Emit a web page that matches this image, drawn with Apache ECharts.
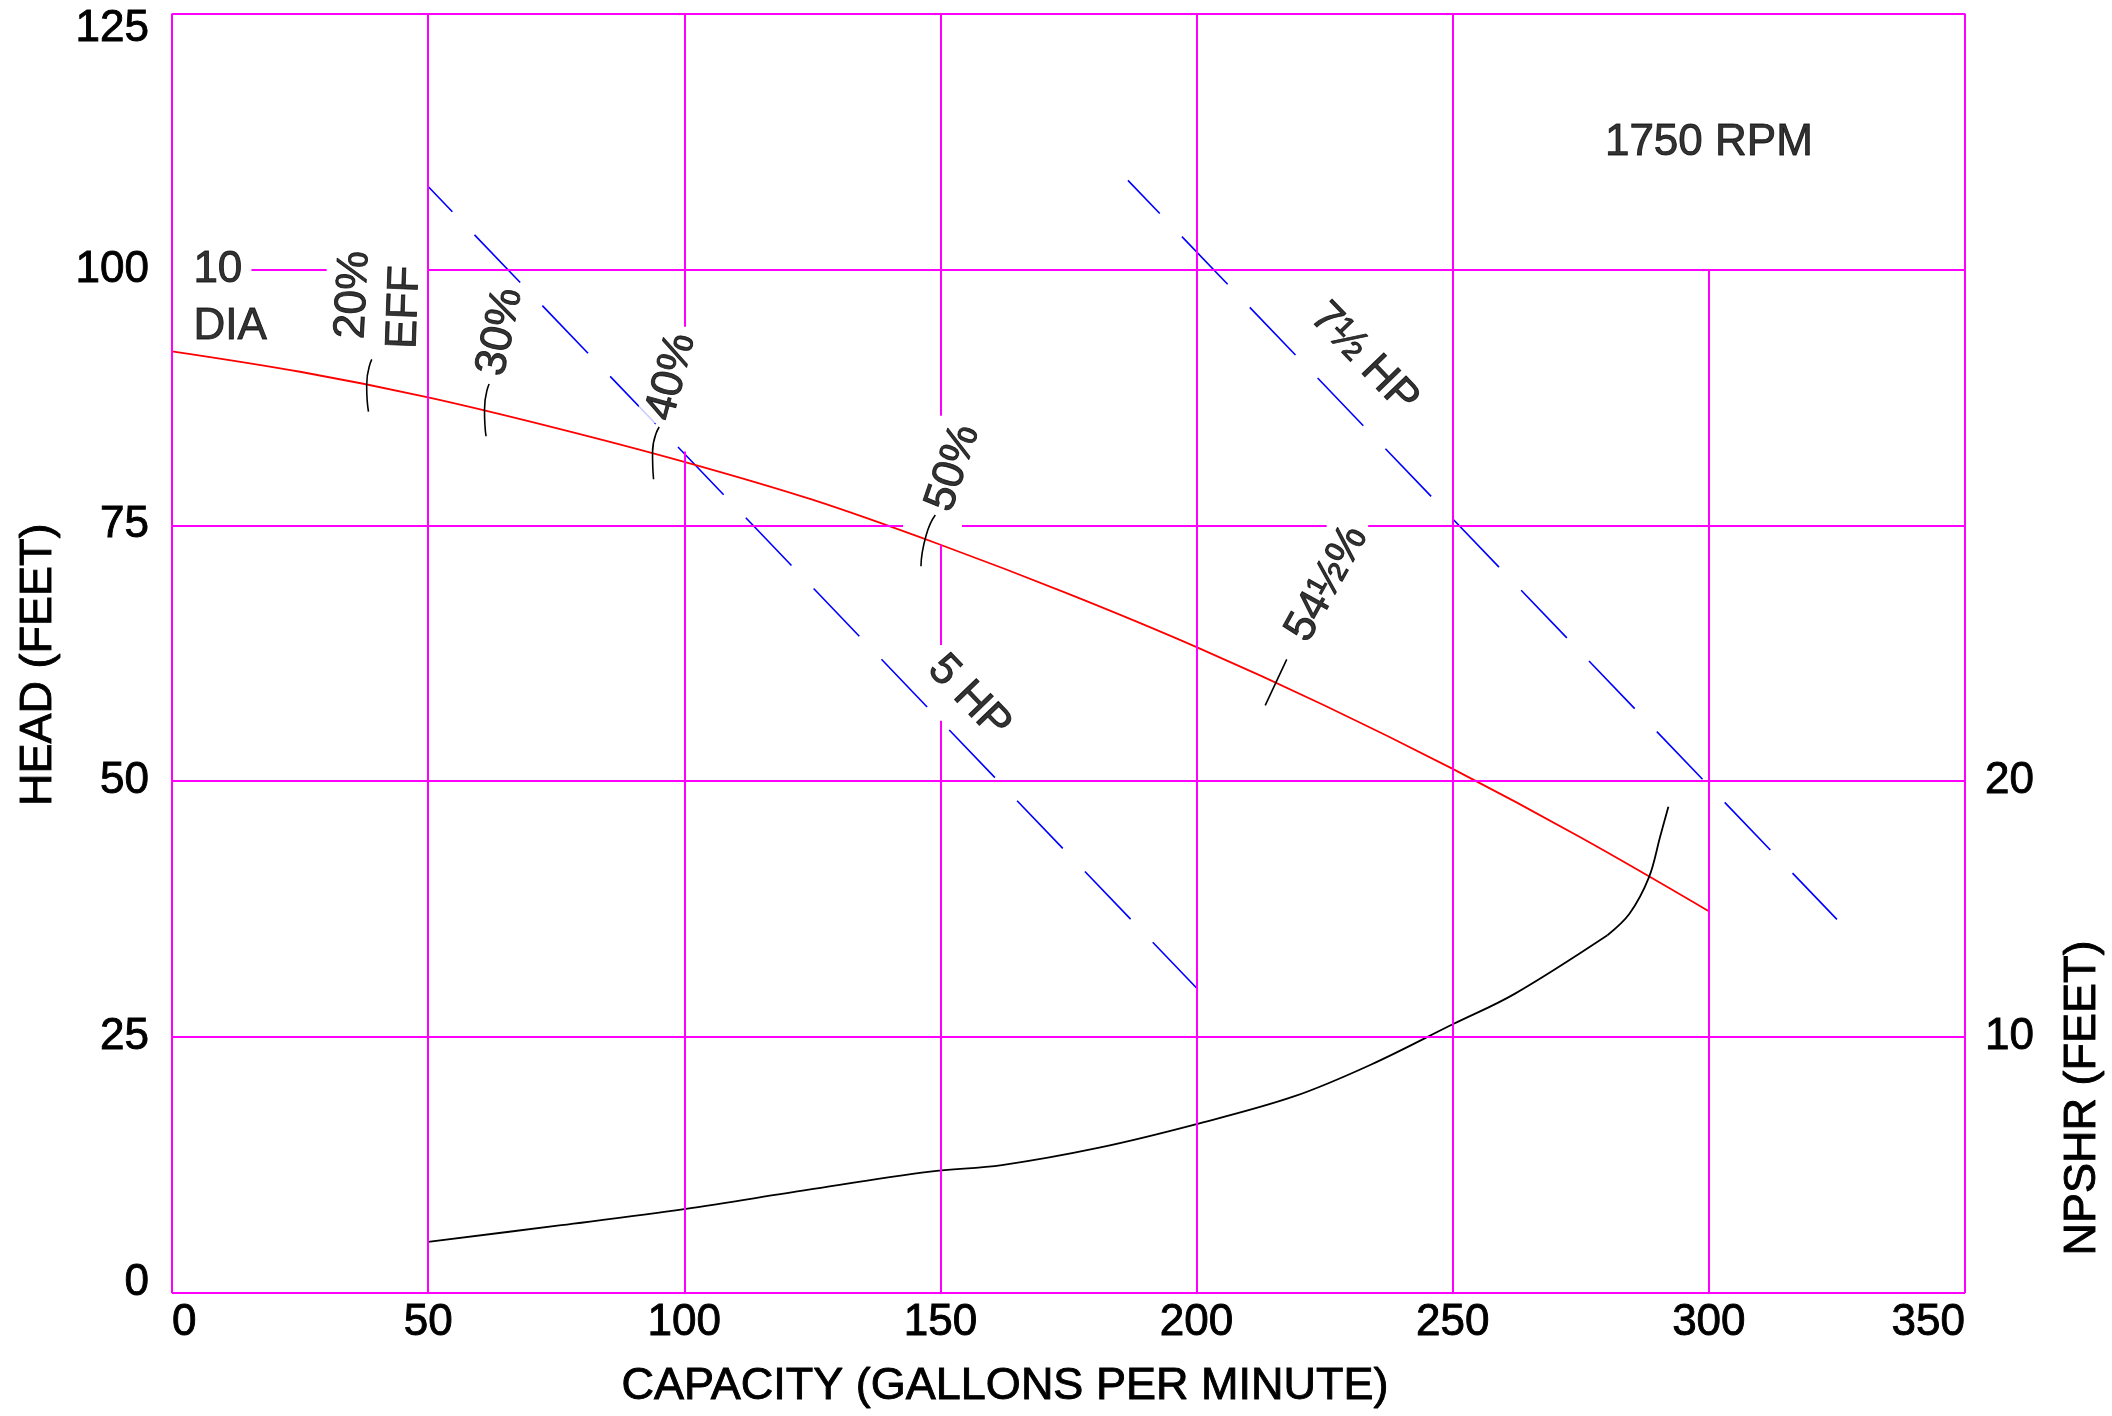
<!DOCTYPE html>
<html><head><meta charset="utf-8">
<script src="https://cdn.jsdelivr.net/npm/echarts@6/dist/echarts.min.js"></script>
<style>html,body{margin:0;padding:0;background:#fff}#c{width:2112px;height:1416px}</style>
</head><body><div id="c"></div>
<script>
// ---- axes / ticks ----
const capacityTicks = [0, 50, 100, 150, 200, 250, 300, 350];
const headTicks = [0, 25, 50, 75, 100, 125];
const npshrTicks = [10, 20];

// ---- head-capacity curve (10" dia, 1750 RPM) ----
const headQ  = [0, 25, 50, 75, 100, 125, 150, 175, 200, 225, 250, 275, 300];
const headFt = [92, 90.0, 87.5, 84.5, 81.2, 77.5, 73.1, 68.3, 63.1, 57.4, 51.2, 44.5, 37.3];

// ---- NPSHR curve (right axis, feet) ----
const npshrQ  = [50, 76, 100, 124, 148, 162, 181, 200, 219, 234, 250, 262, 280.2, 284.5, 288.3, 290.5, 292.1];
const npshrFt = [2.0, 2.65, 3.28, 4.03, 4.74, 5.0, 5.68, 6.6, 7.68, 8.92, 10.5, 11.68, 13.98, 14.82, 16.24, 17.84, 19.0];
const npshrKinkIndex = 12;

// ---- horsepower lines ----
const hp5Q = [50, 200];
const hp5Ft = [108.1, 29.8];
const hp75Q = [186.6, 325];
const hp75Ft = [108.7, 36.5];

// ---- efficiency marks crossing the head curve ----
const effArcQ  = [[39.0, 38.0, 38.35], [61.9, 61.0, 61.3], [95.1, 93.8, 94.0], [149.0, 147.2, 146.2], [217.6, 213.4]];
const effArcFt = [[91.2, 88.7, 86.1], [88.8, 86.3, 83.7], [84.6, 82.1, 79.5], [76.0, 74.0, 71.0], [61.9, 57.4]];

// ---- annotations ----
const noteText = ['10', 'DIA', '20%', 'EFF', '30%', '40%', '50%', '54½%', '5 HP', '7½ HP', '1750 RPM'];
const noteQ    = [3.2, 3.2, 35.4, 45.4, 64.1, 97.5, 152.5, 225.5, 155.6, 232.7, 300];
const noteFt   = [100, 94.4, 97.5, 96.3, 93.9, 89.5, 80.6, 69.3, 58.2, 91.3, 112.4];
const noteRotate = [0, 0, 87, 88, 78, 75, 71, 61, -46, -46, 0];
const noteAlign  = ['left', 'left', 'center', 'center', 'center', 'center', 'center', 'center', 'center', 'center', 'center'];

// ---- grid segments (drawn in data space) ----
// vertical: [capacity, headFrom, headTo]
const vGrid = [[0,0,125],[50,0,125],[100,0,82.2],[100,94.4,125],[150,0,55.9],[150,63.3,73.1],[150,85.7,125],[200,0,125],[250,0,125],[300,0,100],[350,0,125]];
// horizontal: [head, capFrom, capTo]
const hGrid = [[0,0,350],[25,0,350],[50,0,350],[75,0,142.7],[75,154.2,225.4],[75,233.5,350],[100,15.5,30.2],[100,50,350],[125,0,350]];

const FONT = 'Liberation Sans, Arial, sans-serif';
const INK = { color: '#000', textBorderColor: '#000', textBorderWidth: 0.9 };
const zip = (a, b) => a.map((v, i) => [v, b[i]]);

const gridSegs = [];
vGrid.forEach(s => gridSegs.push([{ coord: [s[0], s[1]] }, { coord: [s[0], s[2]] }]));
hGrid.forEach(s => gridSegs.push([{ coord: [s[1], s[0]] }, { coord: [s[2], s[0]] }]));

const noteData = noteText.map((t, i) => {
  const lbl = { formatter: t, rotate: noteRotate[i], align: noteAlign[i] };
  if (t === '7½ HP') lbl.padding = [6, 4, 40, 4];
  return { value: [noteQ[i], noteFt[i]], label: lbl };
});

const series = [
  {
    type: 'line', data: [[0, 0]], showSymbol: false, symbol: 'none',
    lineStyle: { opacity: 0 }, z: 1, clip: false, silent: true,
    markLine: {
      silent: true, symbol: ['none', 'none'], animation: false,
      label: { show: false }, emphasis: { disabled: true },
      lineStyle: { color: '#ff00ff', width: 2, type: 'solid' },
      data: gridSegs
    }
  },
  {
    type: 'line', data: zip(hp5Q, hp5Ft), symbol: 'none', z: 2, silent: true,
    lineStyle: { color: '#0000ff', width: 1.6, type: [66, 32], dashOffset: 31 }
  },
  {
    type: 'line', data: zip(hp75Q, hp75Ft), symbol: 'none', z: 2, silent: true,
    lineStyle: { color: '#0000ff', width: 1.6, type: [66, 32], dashOffset: 20 }
  },
  {
    type: 'scatter', data: noteData, symbolSize: 0, z: 3, silent: true,
    label: Object.assign({
      show: true, position: 'inside', verticalAlign: 'middle',
      fontSize: 44, fontFamily: FONT,
      backgroundColor: '#fff', padding: [2, 5]
    }, INK)
  },
  {
    type: 'line', data: zip(headQ, headFt), symbol: 'none', smooth: 0.35, z: 4, silent: true,
    lineStyle: { color: '#ff0000', width: 1.8 }
  },
  {
    type: 'line', yAxisIndex: 1, data: zip(npshrQ, npshrFt).slice(0, npshrKinkIndex + 1),
    symbol: 'none', smooth: 0.35, z: 4, silent: true,
    lineStyle: { color: '#000', width: 1.8 }
  },
  {
    type: 'line', yAxisIndex: 1, data: zip(npshrQ, npshrFt).slice(npshrKinkIndex),
    symbol: 'none', smooth: 0.35, z: 4, silent: true,
    lineStyle: { color: '#000', width: 1.8 }
  }
];
effArcQ.forEach((qs, i) => {
  series.push({
    type: 'line', data: zip(qs, effArcFt[i]), symbol: 'none', smooth: 0.6, z: 5, silent: true,
    lineStyle: { color: '#000', width: 1.6 }
  });
});

const chart = echarts.init(document.getElementById('c'), null, { renderer: 'canvas' });
chart.setOption({
  animation: false,
  backgroundColor: '#fff',
  grid: { left: 172, right: 147, top: 13.5, bottom: 123, containLabel: false, outerBoundsMode: 'none' },
  xAxis: {
    type: 'value', min: capacityTicks[0], max: capacityTicks[capacityTicks.length - 1], interval: 50,
    axisLine: { show: false }, axisTick: { show: false }, splitLine: { show: false },
    axisLabel: Object.assign({
      fontSize: 44, fontFamily: FONT, margin: 8,
      alignMinLabel: 'left', alignMaxLabel: 'right'
    }, INK),
    name: 'CAPACITY (GALLONS PER MINUTE)', nameLocation: 'middle', nameGap: 71,
    nameTextStyle: Object.assign({ fontSize: 45, fontFamily: FONT, padding: [0, 127, 0, 0] }, INK)
  },
  yAxis: [
    {
      type: 'value', min: headTicks[0], max: headTicks[headTicks.length - 1], interval: 25,
      axisLine: { show: false }, axisTick: { show: false }, splitLine: { show: false },
      axisLabel: Object.assign({
        fontSize: 44, fontFamily: FONT, margin: 23,
        formatter: v => v === headTicks[0] ? '{lo|' + v + '}' : (v === headTicks[headTicks.length - 1] ? '{hi|' + v + '}' : String(v)),
        rich: {
          lo: Object.assign({ fontSize: 44, fontFamily: FONT, padding: [0, 0, 20, 0] }, INK),
          hi: Object.assign({ fontSize: 44, fontFamily: FONT, padding: [31, 0, 0, 0] }, INK)
        }
      }, INK),
      name: 'HEAD (FEET)', nameLocation: 'middle', nameGap: 111,
      nameTextStyle: Object.assign({ fontSize: 45, fontFamily: FONT, padding: [0, 23, 0, 0] }, INK)
    },
    {
      type: 'value', position: 'right', min: 0, max: 50, interval: 10,
      axisLine: { show: false }, axisTick: { show: false }, splitLine: { show: false },
      axisLabel: Object.assign({
        fontSize: 44, fontFamily: FONT, margin: 20,
        formatter: v => npshrTicks.includes(v) ? String(v) : ''
      }, INK)
    }
  ],
  graphic: [{
    type: 'text', x: 2083, y: 1098, rotation: Math.PI / 2,
    style: { text: 'NPSHR (FEET)', fontSize: 45, fontFamily: FONT, fill: '#000', stroke: '#000', lineWidth: 0.9, align: 'center', verticalAlign: 'middle' }
  }],
  series: series
});
</script>
</body></html>
